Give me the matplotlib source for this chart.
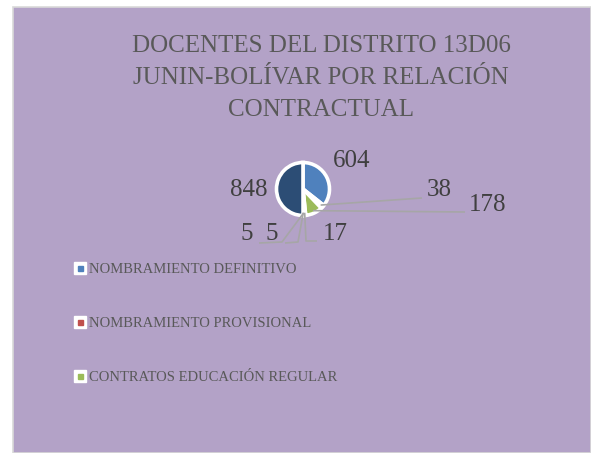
import matplotlib
matplotlib.use("Agg")
import matplotlib.pyplot as plt
from matplotlib.lines import Line2D
from matplotlib.legend_handler import HandlerTuple
from matplotlib.patches import Rectangle
import numpy as np

# ---- data ----
title = "DOCENTES DEL DISTRITO 13D06\nJUNIN-BOLÍVAR POR RELACIÓN\nCONTRACTUAL"
values = [604, 38, 178, 17, 5, 5, 848]
slice_colors = ["#4F81BD", "#C0504D", "#9BBB59", "#8064A2", "#4BACC6", "#F79646", "#2C4D75"]
legend_labels = ["NOMBRAMIENTO DEFINITIVO", "NOMBRAMIENTO PROVISIONAL", "CONTRATOS EDUCACIÓN REGULAR"]
legend_colors = ["#4F81BD", "#C0504D", "#9BBB59"]

# label placement (figure pixel coords, y from top) for each slice
label_pos = [(352, 161), (439, 190), (488, 205), (335, 234), (247, 234), (272, 234), (249, 190)]
# leader line bend/end points (pixel coords, y from top); None = no leader
leader_pts = [None, [(422, 198)], [(465, 212)], [(306, 241), (317, 241)],
              [(282, 242), (259, 243)], [(298, 242), (285, 243)], None]

W, H = 591, 453
plt.rcParams['font.family'] = ['Liberation Serif', 'DejaVu Serif']
fig = plt.figure(figsize=(W / 100, H / 100), dpi=100)
fig.patch.set_facecolor("white")

ax = fig.add_axes([0, 0, 1, 1])

# background panel
ax.add_patch(Rectangle((13, 0), W - 13, H - 7, facecolor="#B3A2C7",
                       edgecolor="#D9D9D9", linewidth=1.2, zorder=0))

# title
ax.text(321, H - 78, title, ha='center', va='center', fontsize=18,
        color="#595959", linespacing=1.56)

# pie
cx, cy, r = 303, H - 189, 26.5
wedges, _ = ax.pie(values, colors=slice_colors, startangle=90, counterclock=False,
                   center=(cx, cy), radius=r, frame=True,
                   wedgeprops=dict(edgecolor="white", linewidth=2.6))
ax.set_xlim(0, W)
ax.set_ylim(0, H)
ax.set_aspect('equal')
ax.axis('off')

# data labels with leader lines
for w, v, (lx, ly), pts in zip(wedges, values, label_pos, leader_pts):
    ax.text(lx, H - ly, str(v), ha='center', va='center', fontsize=18, color="#404040")
    if pts is None:
        continue
    ang = np.deg2rad((w.theta1 + w.theta2) / 2)
    xs = [cx + r * 0.9 * np.cos(ang)] + [p[0] for p in pts]
    ys = [cy + r * 0.9 * np.sin(ang)] + [H - p[1] for p in pts]
    ax.plot(xs, ys, color="#A6A6A6", lw=1.2, solid_capstyle='butt')

# legend
handles = []
for c in legend_colors:
    outer = Line2D([], [], marker='s', markersize=8, markerfacecolor='white',
                   markeredgecolor='white', linestyle='none')
    inner = Line2D([], [], marker='s', markersize=3.6, markerfacecolor=c,
                   markeredgecolor=c, linestyle='none')
    handles.append((outer, inner))
leg = fig.legend(handles, legend_labels, handler_map={tuple: HandlerTuple(ndivide=1, pad=0)},
                 loc='upper left', bbox_to_anchor=(61 / W, 1 - 250 / H),
                 frameon=False, fontsize=10.5, labelcolor="#595959",
                 handlelength=0.8, handletextpad=0.2, labelspacing=2.8)

fig.savefig("out.png", dpi=100, facecolor="white")
